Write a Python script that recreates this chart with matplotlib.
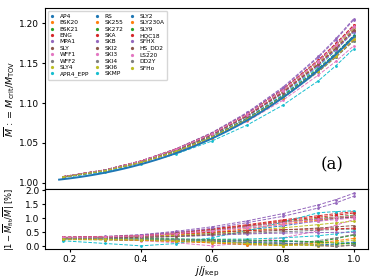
import matplotlib
matplotlib.use("Agg")
import matplotlib.pyplot as plt
import numpy as np

# spin j/j_kep sampled for every EOS
j = [0.18, 0.3, 0.4, 0.5, 0.6, 0.7, 0.8, 0.9, 0.95, 1.0]

# M_crit / M_TOV per EOS
eos_names = ["AP4", "BSK20", "BSK21", "ENG", "MPA1", "SLY", "WFF1", "WFF2", "SLY4", "APR4_EPP",
             "RS", "SK255", "SK272", "SKA", "SKB", "SKI2", "SKI3", "SKI4", "SKI6", "SKMP",
             "SLY2", "SLY230A", "SLY9", "HQC18", "SFHX", "HS_DD2", "LS220", "DD2Y", "SFHo"]

AP4 = [1.0073, 1.0155, 1.0258, 1.0398, 1.0578, 1.0806, 1.1087, 1.1430, 1.1626, 1.1842]
BSK20 = [1.0075, 1.0160, 1.0269, 1.0420, 1.0616, 1.0862, 1.1165, 1.1527, 1.1734, 1.1958]
BSK21 = [1.0075, 1.0158, 1.0261, 1.0399, 1.0576, 1.0797, 1.1070, 1.1396, 1.1580, 1.1783]
ENG = [1.0077, 1.0162, 1.0273, 1.0425, 1.0621, 1.0868, 1.1173, 1.1539, 1.1749, 1.1978]
MPA1 = [1.0078, 1.0164, 1.0275, 1.0429, 1.0629, 1.0883, 1.1198, 1.1584, 1.1809, 1.2058]
SLY = [1.0070, 1.0152, 1.0255, 1.0394, 1.0573, 1.0798, 1.1076, 1.1415, 1.1612, 1.1834]
WFF1 = [1.0072, 1.0153, 1.0253, 1.0386, 1.0557, 1.0771, 1.1034, 1.1350, 1.1525, 1.1718]
WFF2 = [1.0071, 1.0153, 1.0255, 1.0392, 1.0568, 1.0790, 1.1062, 1.1390, 1.1577, 1.1780]
SLY4 = [1.0069, 1.0151, 1.0254, 1.0393, 1.0572, 1.0797, 1.1075, 1.1415, 1.1618, 1.1844]
APR4_EPP = [1.0065, 1.0138, 1.0234, 1.0363, 1.0523, 1.0725, 1.0973, 1.1278, 1.1470, 1.1682]
RS = [1.0075, 1.0159, 1.0266, 1.0413, 1.0604, 1.0847, 1.1149, 1.1518, 1.1728, 1.1954]
SK255 = [1.0075, 1.0159, 1.0267, 1.0415, 1.0608, 1.0853, 1.1156, 1.1521, 1.1730, 1.1960]
SK272 = [1.0076, 1.0160, 1.0269, 1.0419, 1.0613, 1.0860, 1.1163, 1.1527, 1.1735, 1.1963]
SKA = [1.0076, 1.0161, 1.0271, 1.0422, 1.0619, 1.0865, 1.1169, 1.1533, 1.1742, 1.1972]
SKB = [1.0077, 1.0162, 1.0273, 1.0425, 1.0623, 1.0876, 1.1187, 1.1571, 1.1795, 1.2045]
SKI2 = [1.0075, 1.0160, 1.0270, 1.0421, 1.0616, 1.0862, 1.1163, 1.1525, 1.1730, 1.1954]
SKI3 = [1.0076, 1.0161, 1.0270, 1.0420, 1.0614, 1.0860, 1.1162, 1.1525, 1.1733, 1.1960]
SKI4 = [1.0073, 1.0157, 1.0264, 1.0409, 1.0597, 1.0834, 1.1125, 1.1479, 1.1682, 1.1903]
SKI6 = [1.0074, 1.0158, 1.0266, 1.0413, 1.0603, 1.0844, 1.1141, 1.1502, 1.1710, 1.1937]
SKMP = [1.0073, 1.0156, 1.0260, 1.0400, 1.0582, 1.0812, 1.1101, 1.1456, 1.1664, 1.1895]
SLY2 = [1.0070, 1.0152, 1.0255, 1.0394, 1.0574, 1.0800, 1.1079, 1.1419, 1.1621, 1.1848]
SLY230A = [1.0071, 1.0152, 1.0254, 1.0391, 1.0568, 1.0791, 1.1065, 1.1399, 1.1589, 1.1797]
SLY9 = [1.0073, 1.0156, 1.0260, 1.0400, 1.0580, 1.0808, 1.1090, 1.1431, 1.1626, 1.1839]
HQC18 = [1.0078, 1.0163, 1.0271, 1.0419, 1.0608, 1.0845, 1.1134, 1.1484, 1.1685, 1.1907]
SFHX = [1.0075, 1.0159, 1.0266, 1.0410, 1.0597, 1.0832, 1.1120, 1.1469, 1.1670, 1.1889]
HS_DD2 = [1.0074, 1.0158, 1.0265, 1.0410, 1.0600, 1.0838, 1.1132, 1.1488, 1.1693, 1.1918]
LS220 = [1.0077, 1.0162, 1.0271, 1.0420, 1.0613, 1.0855, 1.1154, 1.1516, 1.1724, 1.1951]
DD2Y = [1.0073, 1.0156, 1.0260, 1.0399, 1.0578, 1.0804, 1.1081, 1.1419, 1.1612, 1.1824]
SFHo = [1.0071, 1.0153, 1.0256, 1.0394, 1.0572, 1.0795, 1.1070, 1.1404, 1.1595, 1.1804]

eos_values = [AP4, BSK20, BSK21, ENG, MPA1, SLY, WFF1, WFF2, SLY4, APR4_EPP,
              RS, SK255, SK272, SKA, SKB, SKI2, SKI3, SKI4, SKI6, SKMP,
              SLY2, SLY230A, SLY9, HQC18, SFHX, HS_DD2, LS220, DD2Y, SFHo]

# universal fit  M = 1 + a2 (j/jkep)^2 + a4 (j/jkep)^4
a2 = 0.138
a4 = 0.045


def fit(x):
    x = np.asarray(x)
    return 1 + a2 * x**2 + a4 * x**4


fig, (ax1, ax2) = plt.subplots(2, 1, figsize=(3.74, 2.78), dpi=100, sharex=True,
                               gridspec_kw={"height_ratios": [3, 1]})
fig.subplots_adjust(left=0.12, right=0.984, top=0.971, bottom=0.104, hspace=0)

colors = plt.rcParams["axes.prop_cycle"].by_key()["color"]
jj = np.array(j)
for i, (name, vals) in enumerate(zip(eos_names, eos_values)):
    c = colors[i % 10]
    vals = np.array(vals)
    ax1.plot(jj, vals, "--", color=c, marker=".", markersize=2, linewidth=0.7, label=name)
    ax2.plot(jj, np.abs(1 - fit(jj) / vals) * 100, "--", color=c, marker=".",
             markersize=2, linewidth=0.7)

xf = np.linspace(0.17, 1.0, 100)
ax1.plot(xf, fit(xf), "-", color="tab:blue", linewidth=1.4)

ax1.set_ylim(0.9925, 1.219)
ax1.set_yticks([1.00, 1.05, 1.10, 1.15, 1.20])
ax1.set_ylabel(r"$\overline{M}\,:=\,M_{\rm crit}/M_{\rm TOV}$", fontsize=6.8)
ax1.yaxis.set_label_coords(-0.085, 0.5)
ax1.text(0.89, 0.13, "(a)", transform=ax1.transAxes, fontsize=12, family="serif",
         ha="center", va="center")
leg = ax1.legend(loc="upper left", ncol=3, fontsize=4.2, handlelength=0.5, markerscale=1.3,
                 columnspacing=1.2, labelspacing=0.22, borderpad=0.5, handletextpad=1.0,
                 bbox_to_anchor=(0.0, 1.0))
for h in leg.get_lines():
    h.set_linestyle("None")

ax2.set_ylim(-0.1, 2.05)
ax2.set_yticks([0.0, 0.5, 1.0, 1.5, 2.0])
ax2.set_ylabel(r"$|1-\overline{M}_{\rm fit}/\overline{M}|$ [%]", fontsize=6)
ax2.yaxis.set_label_coords(-0.085, 0.5)
ax2.set_xlim(0.13, 1.04)
ax2.set_xticks([0.2, 0.4, 0.6, 0.8, 1.0])
ax2.set_xlabel(r"$j/j_{\rm kep}$", fontsize=7.5, labelpad=0.5)

for ax in (ax1, ax2):
    ax.tick_params(labelsize=6.5, length=2.5, pad=1.5)

fig.savefig("out.png", dpi=100)
